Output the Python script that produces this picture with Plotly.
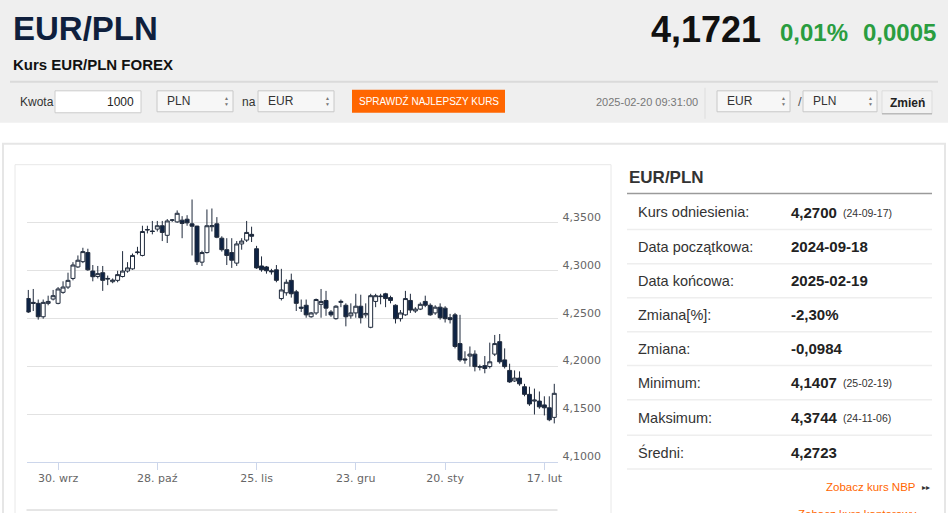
import plotly.graph_objects as go

W, H = 948, 513

# ---------------- data ----------------
SEP_2024 = [20, 23, 24, 25, 26, 27, 30]
OCT_2024 = [1, 2, 3, 4, 7, 8, 9, 10, 11, 14, 15, 16, 17, 18, 21, 22, 23, 24, 25, 28, 29, 30, 31]
NOV_2024 = [1, 4, 5, 6, 7, 8, 11, 12, 13, 14, 15, 18, 19, 20, 21, 22, 25, 26, 27, 28, 29]
DEC_2024 = [2, 3, 4, 5, 6, 9, 10, 11, 12, 13, 16, 17, 18, 19, 20, 23, 24, 26, 27, 30, 31]
JAN_2025 = [2, 3, 6, 7, 8, 9, 10, 13, 14, 15, 16, 17, 20, 21, 22, 23, 24, 27, 28, 29, 30, 31]
FEB_2025 = [3, 4, 5, 6, 7, 10, 11, 12, 13, 14, 17, 18, 19]

dates = ([f"2024-09-{d:02d}" for d in SEP_2024] + [f"2024-10-{d:02d}" for d in OCT_2024]
         + [f"2024-11-{d:02d}" for d in NOV_2024] + [f"2024-12-{d:02d}" for d in DEC_2024]
         + [f"2025-01-{d:02d}" for d in JAN_2025] + [f"2025-02-{d:02d}" for d in FEB_2025])

open_ = [4.271, 4.267, 4.266, 4.252, 4.266, 4.2705, 4.266, 4.2775, 4.283, 4.292,
         4.304, 4.3095, 4.319, 4.2997, 4.294, 4.298, 4.292, 4.2886, 4.290, 4.294,
         4.2997, 4.302, 4.319, 4.316, 4.3425, 4.3415, 4.3435, 4.347, 4.337, 4.3528,
         4.351, 4.3528, 4.3538, 4.349, 4.3466, 4.309, 4.319, 4.346, 4.349, 4.334,
         4.322, 4.319, 4.308, 4.328, 4.332, 4.338, 4.323, 4.305, 4.304, 4.300,
         4.301, 4.271, 4.277, 4.290, 4.278, 4.262, 4.264, 4.252, 4.256, 4.265,
         4.269, 4.257, 4.250, 4.267, 4.264, 4.253, 4.256, 4.263, 4.254, 4.241,
         4.268, 4.273, 4.276, 4.272, 4.264, 4.250, 4.254, 4.269, 4.258, 4.260,
         4.268, 4.264, 4.256, 4.262, 4.261, 4.251, 4.254, 4.224, 4.208, 4.211,
         4.213, 4.200, 4.201, 4.200, 4.213, 4.226, 4.207, 4.196, 4.185, 4.188,
         4.179, 4.171, 4.164, 4.164, 4.160, 4.157, 4.147]
high = [4.280, 4.281, 4.270, 4.270, 4.274, 4.280, 4.283, 4.289, 4.298, 4.309,
        4.316, 4.324, 4.323, 4.306, 4.305, 4.305, 4.295, 4.292, 4.300, 4.3205,
        4.309, 4.318, 4.325, 4.347, 4.347, 4.352, 4.352, 4.352, 4.354, 4.354,
        4.363, 4.357, 4.358, 4.3744, 4.347, 4.321, 4.364, 4.365, 4.356, 4.336,
        4.334, 4.334, 4.331, 4.334, 4.352, 4.346, 4.326, 4.315, 4.305, 4.302,
        4.306, 4.302, 4.291, 4.297, 4.280, 4.270, 4.270, 4.257, 4.271, 4.281,
        4.279, 4.259, 4.264, 4.270, 4.266, 4.266, 4.276, 4.275, 4.266, 4.276,
        4.276, 4.276, 4.277, 4.274, 4.265, 4.259, 4.279, 4.276, 4.262, 4.267,
        4.274, 4.266, 4.264, 4.266, 4.263, 4.255, 4.256, 4.254, 4.216, 4.221,
        4.217, 4.202, 4.211, 4.225, 4.233, 4.234, 4.219, 4.203, 4.196, 4.195,
        4.182, 4.179, 4.177, 4.174, 4.169, 4.169, 4.182]
low = [4.256, 4.258, 4.249, 4.250, 4.264, 4.269, 4.265, 4.276, 4.281, 4.290,
       4.303, 4.308, 4.300, 4.289, 4.292, 4.279, 4.285, 4.287, 4.288, 4.293,
       4.298, 4.301, 4.317, 4.315, 4.339, 4.338, 4.341, 4.331, 4.329, 4.351,
       4.350, 4.334, 4.347, 4.316, 4.306, 4.305, 4.318, 4.341, 4.334, 4.320,
       4.306, 4.303, 4.305, 4.322, 4.330, 4.330, 4.302, 4.299, 4.297, 4.296,
       4.288, 4.269, 4.274, 4.272, 4.258, 4.257, 4.251, 4.251, 4.254, 4.251,
       4.253, 4.252, 4.249, 4.262, 4.242, 4.250, 4.251, 4.245, 4.251, 4.240,
       4.262, 4.265, 4.262, 4.266, 4.245, 4.247, 4.253, 4.256, 4.256, 4.259,
       4.262, 4.253, 4.254, 4.249, 4.246, 4.245, 4.219, 4.205, 4.203, 4.200,
       4.195, 4.196, 4.193, 4.198, 4.211, 4.203, 4.198, 4.183, 4.184, 4.180,
       4.169, 4.159, 4.150, 4.156, 4.149, 4.143, 4.1407]
close = [4.257, 4.266, 4.252, 4.267, 4.268, 4.274, 4.281, 4.283, 4.290, 4.306,
         4.311, 4.320, 4.301, 4.2938, 4.297, 4.290, 4.2915, 4.2903, 4.296, 4.2997,
         4.303, 4.316, 4.3195, 4.341, 4.343, 4.341, 4.347, 4.340, 4.352, 4.3530,
         4.360, 4.3494, 4.350, 4.3465, 4.3094, 4.319, 4.347, 4.347, 4.335, 4.322,
         4.316, 4.311, 4.328, 4.331, 4.340, 4.336, 4.303, 4.301, 4.300, 4.299,
         4.290, 4.280, 4.288, 4.276, 4.266, 4.261, 4.254, 4.256, 4.270, 4.268,
         4.261, 4.254, 4.263, 4.268, 4.252, 4.256, 4.263, 4.251, 4.2555, 4.274,
         4.274, 4.2735, 4.271, 4.269, 4.250, 4.256, 4.271, 4.259, 4.260, 4.265,
         4.264, 4.254, 4.262, 4.251, 4.250, 4.249, 4.221, 4.207, 4.207, 4.213,
         4.200, 4.1995, 4.198, 4.205, 4.224, 4.205, 4.200, 4.184, 4.188, 4.182,
         4.171, 4.161, 4.165, 4.158, 4.157, 4.1445, 4.1721]

x_tick_dates = ["2024-09-30", "2024-10-28", "2024-11-25", "2024-12-23", "2025-01-20", "2025-02-17"]
x_tick_labels = ["30. wrz", "28. paź", "25. lis", "23. gru", "20. sty", "17. lut"]
y_ticks = [4.10, 4.15, 4.20, 4.25, 4.30, 4.35, 4.40]
y_tick_labels = ["4,1000", "4,1500", "4,2000", "4,2500", "4,3000", "4,3500", ""]

stat_labels = ["Kurs odniesienia:", "Data początkowa:", "Data końcowa:", "Zmiana[%]:",
               "Zmiana:", "Minimum:", "Maksimum:", "Średni:"]
stat_values = ["4,2700", "2024-09-18", "2025-02-19", "-2,30%", "-0,0984", "4,1407", "4,3744", "4,2723"]
stat_notes = ["(24-09-17)", "", "", "", "", "(25-02-19)", "(24-11-06)", ""]

# ---------------- helpers (layout in 948x513 design pixels -> paper fractions) ----------------
def px(x):
    return x / W

def py(y):
    return 1 - y / H

shapes = []
annots = []

def rect(x0, y0, x1, y1, fill="rgba(0,0,0,0)", line="rgba(0,0,0,0)", lw=1):
    shapes.append(dict(type="rect", xref="paper", yref="paper", x0=px(x0), x1=px(x1),
                       y0=py(y1), y1=py(y0), fillcolor=fill, line=dict(color=line, width=lw),
                       layer="below"))

def hline(x0, x1, y, color, lw=1):
    shapes.append(dict(type="line", xref="paper", yref="paper", x0=px(x0), x1=px(x1),
                       y0=py(y), y1=py(y), line=dict(color=color, width=lw)))

def vline(x, y0, y1, color, lw=1):
    shapes.append(dict(type="line", xref="paper", yref="paper", x0=px(x), x1=px(x),
                       y0=py(y0), y1=py(y1), line=dict(color=color, width=lw)))

def text(x, y, s, size, color="#333333", anchor="left", weight="normal",
         family="Liberation Sans, Arial, sans-serif"):
    annots.append(dict(xref="paper", yref="paper", x=px(x), y=py(y), text=s, showarrow=False,
                       xanchor=anchor, yanchor="middle",
                       font=dict(size=size, color=color, family=family, weight=weight)))

# ---------------- page chrome ----------------
rect(-2, -2, W + 2, 123, fill="#efefef")
text(11, 29, "EUR/PLN", 33, color="#0f1f3d", weight="bold")
text(649, 30, "4,1721", 36, color="#111111", weight="bold")
text(778, 33, "0,01%", 24, color="#2a9d3f", weight="bold")
text(861, 33, "0,0005", 24, color="#2a9d3f", weight="bold")
text(11, 65, "Kurs EUR/PLN FOREX", 15, color="#111111", weight="bold")
hline(10, 938, 82, "#dadada", 2)

text(18, 102, "Kwota", 12, color="#333333")
rect(55, 91, 141, 113, fill="#ffffff", line="#cccccc")
text(136, 102, "1000", 12, color="#222222", anchor="right")

def select(x0, x1, label):
    rect(x0, 91, x1, 112, fill="#f7f7f7", line="#c8c8c8")
    text(x0 + 8, 101.5, label, 12, color="#333333")
    text(x1 - 7, 98.5, "▲", 5, color="#777777", anchor="center")
    text(x1 - 7, 104.5, "▼", 5, color="#777777", anchor="center")

select(157, 233, "PLN")
text(240, 102, "na", 12, color="#333333")
select(258, 334, "EUR")
rect(352, 90, 505, 113, fill="#ff6600")
text(428.5, 101.5, "SPRAWDŹ NAJLEPSZY KURS", 10, color="#ffffff", anchor="center")
text(594, 102, "2025-02-20 09:31:00", 11, color="#777777")
vline(705, 88, 119, "#dddddd")
select(717, 790, "EUR")
text(796, 102, "/", 13, color="#555555")
select(803, 877, "PLN")
rect(882, 91, 932, 114, fill="#f2f2f2", line="#dddddd")
hline(882, 932, 114, "#bbbbbb", 1.5)
text(907, 103, "Zmień", 12, color="#222222", anchor="center", weight="bold")

# content boxes (bottom edges run past the window and are clipped)
rect(3, 144, 945, 516, line="#e6e6e6", lw=2)
rect(15, 165, 611, 516, line="#e8e8e8", lw=1)
hline(26.5, 557.5, 511, "#cccccc", 1)

# right stats panel
text(627, 178, "EUR/PLN", 17, color="#333333", weight="bold")
hline(627, 932, 194, "#9a9a9a", 1.5)
row_y = [212.5, 247, 281.3, 315.3, 349.5, 383.7, 418.8, 453.3]
sep_y = [230, 264.3, 298.3, 332.3, 366.3, 400.5, 436, 470]
for lab, val, note, ry, sy in zip(stat_labels, stat_values, stat_notes, row_y, sep_y):
    text(636, ry, lab, 14.5, color="#333333")
    text(789, ry, val, 15, color="#222222", weight="bold")
    if note:
        text(841, ry + 0.5, note, 10.5, color="#333333")
    hline(627, 932, sy, "#eeeeee", 1.5)

text(918, 488, "Zobacz kurs NBP", 11.5, color="#ff6600", anchor="right")
text(926, 488.5, "▸▸", 8, color="#333333", anchor="center")
text(918, 515, "Zobacz kurs kantorowy", 11.5, color="#ff6600", anchor="right")
text(926, 515.5, "▸▸", 8, color="#333333", anchor="center")

# ---------------- chart ----------------
fig = go.Figure(go.Candlestick(
    x=dates, open=open_, high=high, low=low, close=close,
    increasing=dict(line=dict(color="#1f2a3c", width=1), fillcolor="#ffffff"),
    decreasing=dict(line=dict(color="#1f2a3c", width=1), fillcolor="#0e2344"),
    whiskerwidth=0, hoverinfo="skip", showlegend=False,
))

tick_idx = [dates.index(d) for d in x_tick_dates]

fig.update_layout(
    autosize=True, margin=dict(l=0, r=0, t=0, b=0),
    paper_bgcolor="#ffffff", plot_bgcolor="rgba(0,0,0,0)",
    separators=", ",
    boxgap=0.2, boxgroupgap=0,
    shapes=shapes, annotations=annots,
    xaxis=dict(type="category", domain=[px(26.5), px(557.5)], range=[-0.363, 106.65],
               rangeslider=dict(visible=False), showgrid=False,
               showline=True, linecolor="#ccd6eb", linewidth=1,
               ticks="outside", ticklen=7, tickcolor="#ccd6eb", tickwidth=1,
               ticklabelstandoff=-2,
               tickmode="array", tickvals=tick_idx, ticktext=x_tick_labels,
               tickfont=dict(family="DejaVu Sans, Verdana, sans-serif", size=11, color="#666666"),
               fixedrange=True),
    yaxis=dict(domain=[py(463.3), py(175.3)], range=[4.10, 4.40], side="right",
               showgrid=True, gridcolor="#e2e2e2", gridwidth=1, zeroline=False, showline=False,
               tickmode="array", tickvals=y_ticks, ticktext=y_tick_labels,
               ticks="", ticklabelstandoff=4, ticklabelshift=-6,
               tickfont=dict(family="DejaVu Sans, Verdana, sans-serif", size=11, color="#666666"),
               fixedrange=True),
)

fig.write_html(
    "out.html",
    default_width="calc(100vw + 5px)",
    default_height="100vh",
    config={"displayModeBar": False, "staticPlot": True, "responsive": True},
    post_script=("var gd=document.getElementById('{plot_id}');"
                 "gd.style.overflow='hidden';"
                 "var de=document.documentElement;de.style.overflow='hidden';"
                 "document.body.style.margin='0';document.body.style.overflow='hidden';"
                 "Plotly.Plots.resize(gd);"),
)
